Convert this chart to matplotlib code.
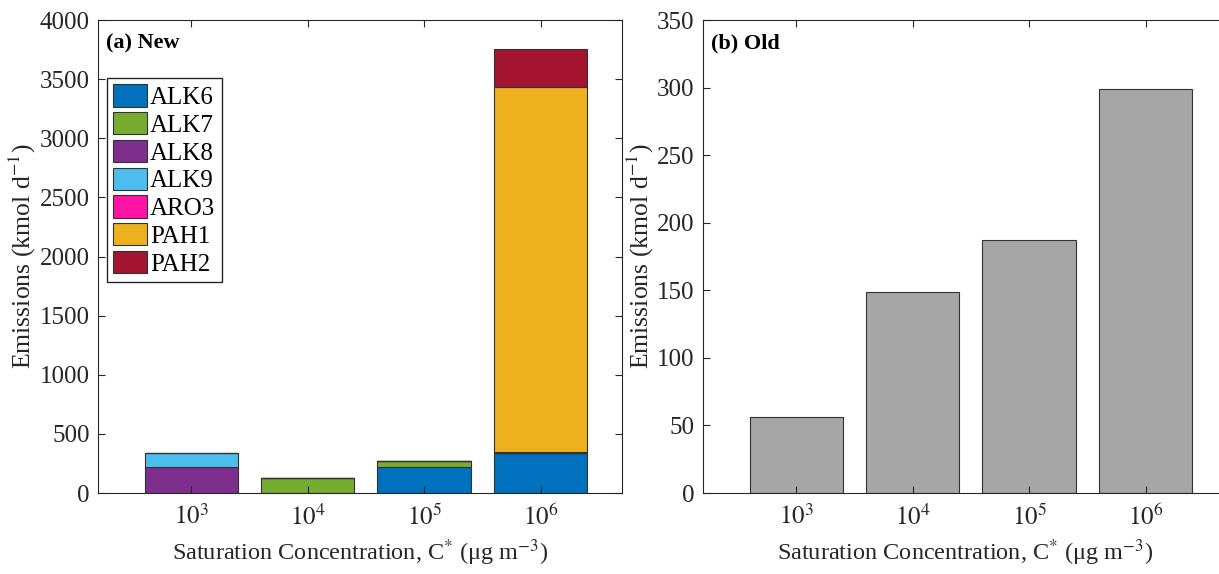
import numpy as np
import matplotlib
matplotlib.use('Agg')
from matplotlib import pyplot as plt

plt.rcParams['font.family'] = ['Liberation Serif', 'DejaVu Serif']
plt.rcParams['mathtext.fontset'] = 'stix'
plt.rcParams['axes.edgecolor'] = '#262626'
plt.rcParams['xtick.color'] = '#262626'
plt.rcParams['ytick.color'] = '#262626'

# saturation concentration bins (log10 C*)
bins = [3, 4, 5, 6]
tick_labels = ['$10^{3}$', '$10^{4}$', '$10^{5}$', '$10^{6}$']

# (a) new speciation, kmol/d, stacked
species = ['ALK6', 'ALK7', 'ALK8', 'ALK9', 'ARO3', 'PAH1', 'PAH2']
alk6 = [0, 0, 220, 336]
alk7 = [0, 124, 48, 0]
alk8 = [222, 0, 0, 0]
alk9 = [114, 0, 0, 0]
aro3 = [0, 0, 0, 10]
pah1 = [0, 0, 0, 3085]
pah2 = [0, 0, 0, 321]
new_vals = [alk6, alk7, alk8, alk9, aro3, pah1, pah2]
colors = ['#0072BD', '#77AC30', '#7E2F8E', '#4DBEEE', '#FF14A6', '#EDB120', '#A2142F']

# (b) old lumped emissions
old_vals = [56, 149, 187, 299]

fig = plt.figure(figsize=(12.19, 5.74), dpi=100)
ax1 = fig.add_axes([0.0804, 0.1411, 0.4299, 0.824])
ax2 = fig.add_axes([0.5767, 0.1411, 0.4299, 0.824])

x = np.arange(len(bins))
width = 0.8

bottom = np.zeros(len(bins))
for name, v, c in zip(species, new_vals, colors):
    ax1.bar(x, v, width, bottom=bottom, color=c, edgecolor='#333333',
            linewidth=0.8, label=name)
    bottom += np.array(v)

ax2.bar(x, old_vals, width, color='#A6A6A6', edgecolor='#333333', linewidth=0.8)

for ax in (ax1, ax2):
    ax.set_xlim(-0.8, 3.7)
    ax.set_xticks(x)
    ax.set_xticklabels(tick_labels)
    ax.tick_params(direction='in', top=True, right=True, length=5,
                   labelsize=18, pad=8)
    ax.tick_params(axis='y', pad=6)
    ax.set_xlabel('Saturation Concentration, C$^{*}$ (μg m$^{-3}$)',
                  fontsize=17.5, color='#262626', labelpad=6)
    ax.set_ylabel('Emissions (kmol d$^{-1}$)', fontsize=18.5, color='#262626',
                  labelpad=1)

# right panel is cut off at the figure edge
ax2.spines['right'].set_visible(False)
ax2.tick_params(right=False)

ax1.set_ylim(0, 4000)
ax1.set_yticks(np.arange(0, 4001, 500))
ax2.set_ylim(0, 350)
ax2.set_yticks(np.arange(0, 351, 50))

ax1.text(0.015, 0.972, '(a) New', transform=ax1.transAxes, va='top',
         fontsize=16, fontweight='bold')
ax2.text(0.015, 0.972, '(b) Old', transform=ax2.transAxes, va='top',
         fontsize=16, fontweight='bold')

leg = ax1.legend(loc='upper left', bbox_to_anchor=(0.008, 0.888), fontsize=18,
                 fancybox=False, framealpha=1, edgecolor='#262626',
                 handlelength=1.35, handleheight=1.0, handletextpad=0.12,
                 labelspacing=0.12, borderpad=0.25, borderaxespad=0.2)
leg.get_frame().set_linewidth(1.0)

plt.savefig('out.png', dpi=100)
